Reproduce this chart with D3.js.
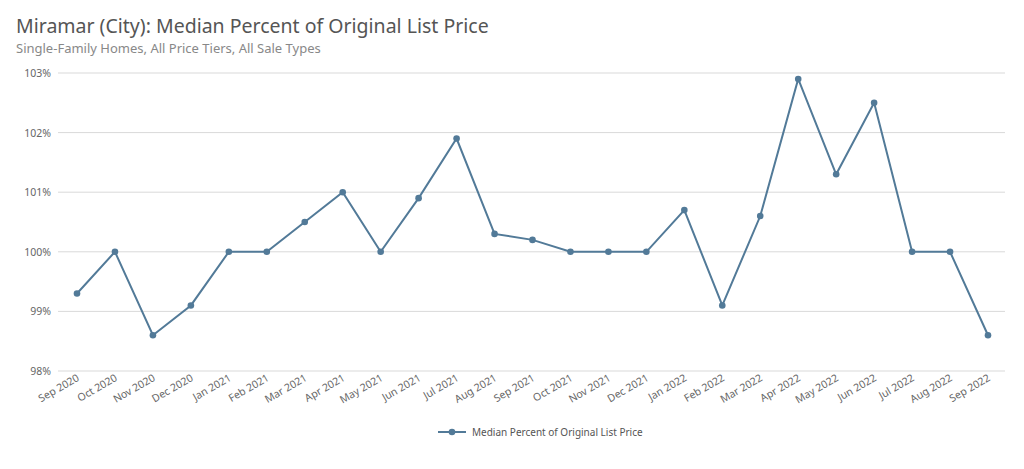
<!DOCTYPE html>
<html><head><meta charset="utf-8">
<script src="https://cdn.jsdelivr.net/npm/d3@7"></script>
<style>body{margin:0;background:#fff;font-family:"Noto Sans",sans-serif}</style>
</head><body><svg id="c" width="1024" height="469"></svg>
<script>
var months = ["Sep 2020","Oct 2020","Nov 2020","Dec 2020","Jan 2021","Feb 2021","Mar 2021","Apr 2021","May 2021","Jun 2021","Jul 2021","Aug 2021","Sep 2021","Oct 2021","Nov 2021","Dec 2021","Jan 2022","Feb 2022","Mar 2022","Apr 2022","May 2022","Jun 2022","Jul 2022","Aug 2022","Sep 2022"];
var values = [99.3,100,98.6,99.1,100,100,100.5,101,100,100.9,101.9,100.3,100.2,100,100,100,100.7,99.1,100.6,102.9,101.3,102.5,100,100,98.6];
var yTicks = [98,99,100,101,102,103];
var color = "#527a98";

var svg = d3.select("#c");
svg.append("text").attr("x",16).attr("y",33).attr("font-size",19.5).attr("fill","#555").text("Miramar (City): Median Percent of Original List Price");
svg.append("text").attr("x",16).attr("y",53).attr("font-size",13).attr("fill","#888").text("Single-Family Homes, All Price Tiers, All Sale Types");

var x = d3.scalePoint().domain(months).range([77,988]);
var y = d3.scaleLinear().domain([98,103]).range([371,73]);

var g = svg.append("g");
yTicks.forEach(function(t){
  g.append("line").attr("x1",58).attr("x2",1005).attr("y1",y(t)).attr("y2",y(t)).attr("stroke","#d9d9d9");
  g.append("text").attr("x",51).attr("y",y(t)+4).attr("text-anchor","end").attr("font-size",10.5).attr("fill","#666").text(t+"%");
});
months.forEach(function(m){
  g.append("text").attr("transform","translate("+(x(m)+3)+",380) rotate(-30)").attr("text-anchor","end")
   .attr("font-size",10.5).attr("fill","#666").text(m);
});
var line = d3.line().x(function(d,i){return x(months[i]);}).y(function(d){return y(d);});
g.append("path").datum(values).attr("d",line).attr("fill","none").attr("stroke",color).attr("stroke-width",2);
g.selectAll("circle").data(values).enter().append("circle")
 .attr("cx",function(d,i){return x(months[i]);}).attr("cy",function(d){return y(d);}).attr("r",3.3).attr("fill",color);

var lg = svg.append("g");
lg.append("line").attr("x1",438).attr("x2",466).attr("y1",432).attr("y2",432).attr("stroke",color).attr("stroke-width",2);
lg.append("circle").attr("cx",452).attr("cy",432).attr("r",3.3).attr("fill",color);
lg.append("text").attr("x",472).attr("y",436).attr("font-size",10).attr("fill","#555").text("Median Percent of Original List Price");
</script></body></html>
